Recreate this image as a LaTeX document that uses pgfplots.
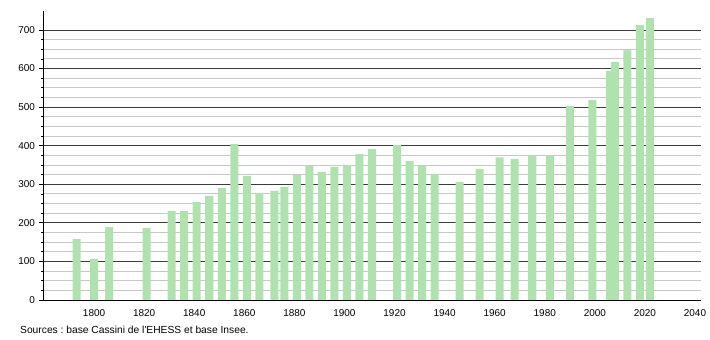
\documentclass[border=0pt]{standalone}
\usepackage{pgfplots}
\pgfplotsset{compat=1.18}
\usepackage{fontspec}
\setmainfont{Liberation Sans}
\frenchspacing
\definecolor{barg}{RGB}{176,226,176}
\definecolor{majg}{RGB}{60,60,60}
\definecolor{ming}{RGB}{200,200,200}
\begin{document}
\begin{tikzpicture}
\path[use as bounding box] (-44bp,-40bp) rectangle (666bp,300bp);
\begin{axis}[
  at={(0,0)}, anchor=south west,
  scale only axis,
  width=657bp, height=289.3bp,
  xmin=1780, xmax=2042.4,
  ymin=0, ymax=750,
  axis x line*=bottom, axis y line*=left,
  axis line style={line width=1bp, black, -},
  xtick={1800,1820,...,2040},
  ytick={0,100,...,700},
  minor y tick num=3,
  tick align=outside,
  major tick length=5bp, minor tick length=2.5bp,
  x tick style={draw=none},
  y tick style={line width=0.8bp, black},
  ymajorgrids, yminorgrids,
  major grid style={line width=0.9bp, majg},
  minor grid style={line width=0.9bp, ming},
  /pgf/number format/1000 sep={},
  /pgf/number format/assume math mode=true,
  tick label style={font=\fontsize{10}{12}\selectfont},
  xticklabel style={yshift=-1bp},
  yticklabel style={xshift=-0.5bp},
  ybar, bar width=3.2,
]
\addplot[fill=barg, draw=none] coordinates {
(1793,158) (1800,106) (1806,189) (1821,187) (1831,231) (1836,231)
(1841,254) (1846,270) (1851,290) (1856,404) (1861,322) (1866,277)
(1872,283) (1876,293) (1881,324) (1886,348) (1891,332) (1896,345)
(1901,350) (1906,378) (1911,391) (1921,402) (1926,360) (1931,349)
(1936,327) (1946,306) (1954,340) (1962,370) (1968,366) (1975,375)
(1982,375) (1990,503) (1999,518) (2006,594) (2008,617) (2013,648)
(2018,713) (2022,731)
};
\end{axis}
\node[anchor=base west, inner sep=0pt, font=\fontsize{10.3}{12}\selectfont] at (-24bp,-33bp) {Sources : base Cassini de l\textquotesingle EHESS et base Insee.};
\end{tikzpicture}
\end{document}
